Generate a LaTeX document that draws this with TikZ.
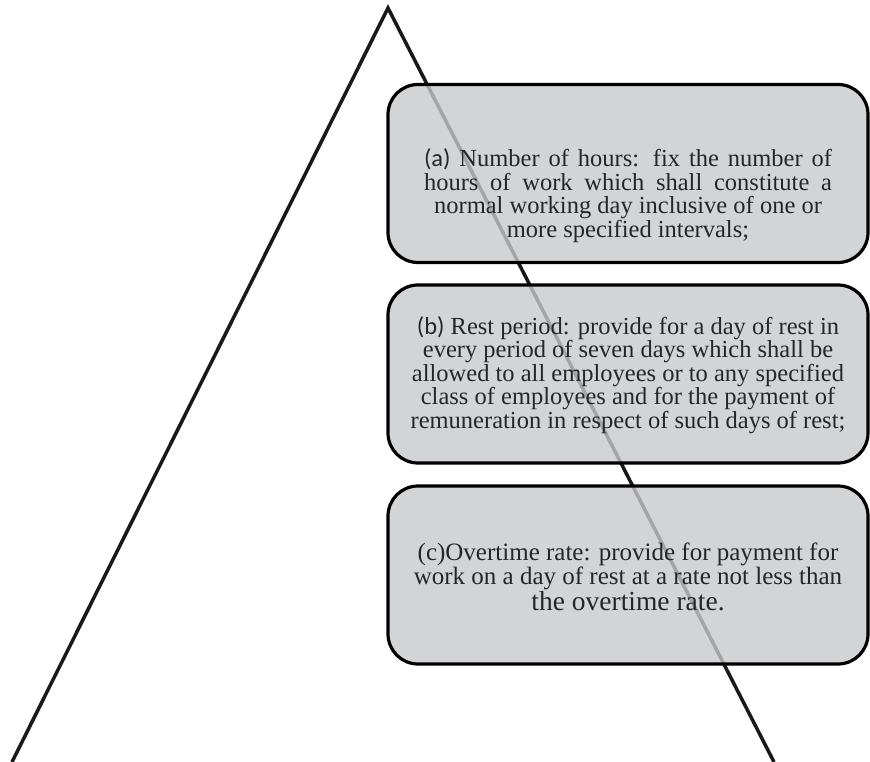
\documentclass[tikz,border=0pt]{standalone}
\usepackage{fontspec}
\setmainfont{Liberation Serif}
\newfontfamily\labelfont{Carlito}
\usetikzlibrary{calc}
\definecolor{boxgray}{RGB}{200,201,204}

\begin{document}
\begin{tikzpicture}[x=1pt, y=-1pt, rounded corners=30pt,
    rulebox/.style = {draw, line width=3.2pt, rectangle, fill=boxgray, fill opacity=0.8,
      minimum width=480pt, minimum height=178pt},
    ruletext/.style = {align=center, inner sep=0pt, text=black!85,
      font=\fontsize{24.5}{23.5}\selectfont}]
  \useasboundingbox (0,0) rectangle (870,762);

  % pyramid outline
  \coordinate (apex) at (388,8);
  \coordinate (baseL) at (12,762);
  \coordinate (baseR) at (774,762);
  \draw [line width=3.5pt, black!90, sharp corners] (baseL) -- (apex) -- (baseR);

  % the three boxes
  \node [rulebox] (hours) at (628,173.5) {};
  \node [rulebox] (rest) at (628,374) {};
  \node [rulebox] (overtime) at (628,575) {};

  \node [ruletext] (hoursText) at ($(hours)+(0,22)$) {\makebox[408pt][s]{{\labelfont (a)} Number of hours: fix the number of}\\
    \makebox[408pt][s]{hours of work which shall constitute a}\\
    normal working day inclusive of one or\\
    more specified intervals;};
  \node [ruletext] (restText) at ($(rest)+(0,1)$) {{\labelfont (b)} Rest period: provide for a day of rest in\\
    every period of seven days which shall be\\
    allowed to all employees or to any specified\\
    class of employees and for the payment of\\
    remuneration in respect of such days of rest;};
  \node [ruletext, font=\fontsize{25}{24}\selectfont] (overtimeText) at ($(overtime)+(0,2)$) {(c)Overtime rate: provide for payment for\\
    work on a day of rest at a rate not less than\\
    {\fontsize{27.5}{24}\selectfont the overtime rate.}};
\end{tikzpicture}
\end{document}
